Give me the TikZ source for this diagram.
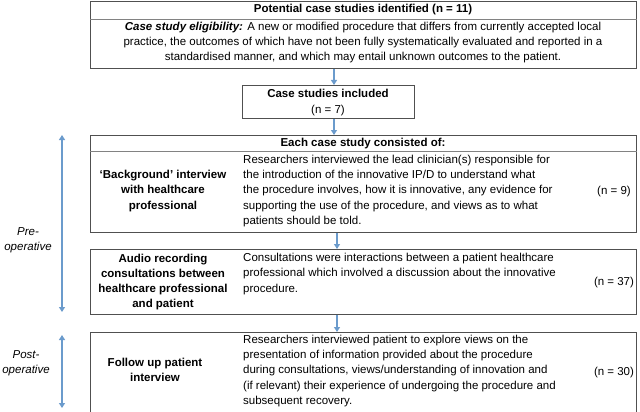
\documentclass[tikz,border=0pt]{standalone}
\usepackage{fontspec}
\setmainfont{Liberation Sans}
\usetikzlibrary{arrows.meta,calc}
\definecolor{boxline}{RGB}{80,80,80}
\definecolor{divline}{RGB}{130,130,130}
\definecolor{flowblue}{RGB}{107,155,204}
\begin{document}
\begin{tikzpicture}[x=1pt,y=-1pt,
  box/.style={draw=boxline,line width=0.9pt,rectangle,inner sep=0pt,anchor=north west},
  divider/.style={draw=divline,line width=0.8pt},
  flow/.style={draw=flowblue,line width=1.3pt,-{Triangle[width=6pt,length=5pt]}},
  span/.style={draw=flowblue,line width=1.3pt,{Triangle[width=6pt,length=5pt]}-{Triangle[width=6pt,length=5pt]}},
  txt/.style={inner sep=0pt,font=\fontsize{11.5}{15.2}\selectfont},
  ctxt/.style={txt,align=center},
  ltxt/.style={txt,align=left,anchor=west},
  btxt/.style={ctxt,font=\fontsize{11.5}{15.2}\selectfont\bfseries},
  ntxt/.style={txt,anchor=center},
  phase/.style={txt,align=center,font=\fontsize{11.5}{15.2}\selectfont\itshape}
]
\useasboundingbox (0,0) rectangle (640,412);

% boxes
\node[box,minimum width=546pt,minimum height=67pt] (top) at (90,1) {};
\node[box,minimum width=172pt,minimum height=33pt] (cs) at (242,85) {};
\node[box,minimum width=546pt,minimum height=97pt] (each) at (90,135) {};
\node[box,minimum width=546pt,minimum height=65pt] (audio) at (90,249) {};
\node[box,minimum width=546pt,minimum height=80pt] (follow) at (90,332) {};

% dividers
\draw[divider] ($(top.north west)+(0,18.5)$) -- ($(top.north east)+(0,18.5)$);
\draw[divider] ($(each.north west)+(0,16.5)$) -- ($(each.north east)+(0,16.5)$);

% flow coordinates
\coordinate (xa) at (334,0);
\coordinate (xb) at (337,0);

% arrows
\draw[flow] (top.south -| xa) -- (cs.north -| xa);
\draw[flow] (cs.south -| xa) -- (each.north -| xa);
\draw[flow] (each.south -| xb) -- (audio.north -| xb);
\draw[flow] (audio.south -| xb) -- (follow.north -| xb);

% phase arrows
\coordinate (preT) at (62,135);
\coordinate (preB) at (62,312);
\coordinate (postT) at (62,335);
\coordinate (postB) at (62,408);
\draw[span] (preT) -- (preB);
\draw[span] (postT) -- (postB);
\node[phase] (pre) at (28,240.5) {Pre-\\operative};
\node[phase] (post) at (26,363.5) {Post-\\operative};

% texts
\node[btxt] (t1) at (363,10) {Potential case studies identified (n = 11)};
\node[ctxt] (t2) at (363,42.5) {\textbf{\textit{Case study eligibility:}} A new or modified procedure that differs from currently accepted local\\practice, the outcomes of which have not been fully systematically evaluated and reported in a\\standardised manner, and which may entail unknown outcomes to the patient.};
\node[ctxt] (t3) at (328,102.5) {\textbf{Case studies included}\\(n = 7)};
\node[btxt] (t4) at (363,143.5) {Each case study consisted of:};

\node[btxt] (bgL) at (163,191) {‘Background’ interview\\with healthcare\\professional};
\node[ltxt] (bgR) at (243,191) {Researchers interviewed the lead clinician(s) responsible for\\the introduction of the innovative IP/D to understand what\\the procedure involves, how it is innovative, any evidence for\\supporting the use of the procedure, and views as to what\\patients should be told.};
\node[ntxt] (bgN) at (614,192) {(n = 9)};

\node[btxt] (auL) at (163,282) {Audio recording\\consultations between\\healthcare professional\\and patient};
\node[ltxt] (auR) at (243,274) {Consultations were interactions between a patient healthcare\\professional which involved a discussion about the innovative\\procedure.};
\node[ntxt] (auN) at (614,283) {(n = 37)};

\node[btxt] (fuL) at (155,369.5) {Follow up patient\\interview};
\node[ltxt] (fuR) at (243,371) {Researchers interviewed patient to explore views on the\\presentation of information provided about the procedure\\during consultations, views/understanding of innovation and\\(if relevant) their experience of undergoing the procedure and\\subsequent recovery.};
\node[ntxt] (fuN) at (614,373) {(n = 30)};
\end{tikzpicture}
\end{document}
